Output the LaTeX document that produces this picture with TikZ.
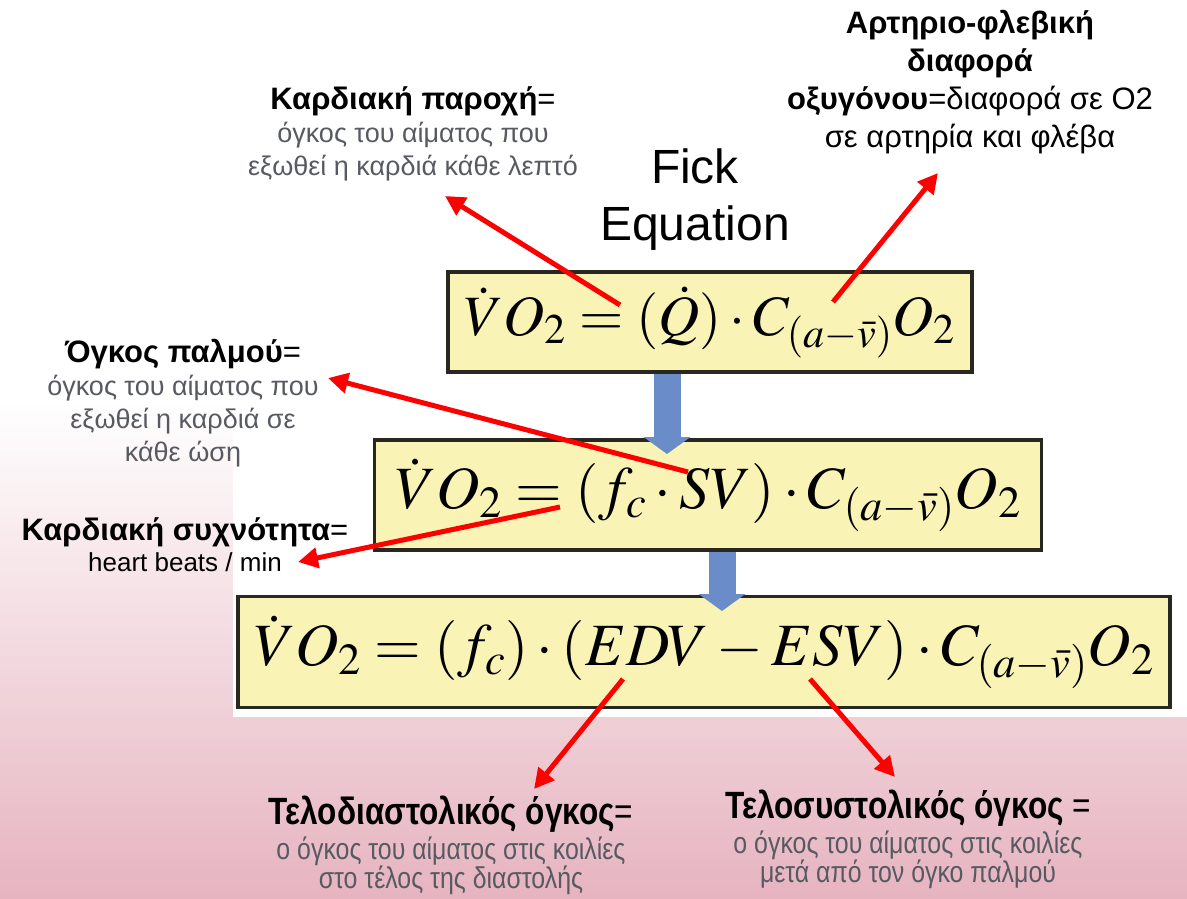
\documentclass[tikz,border=0pt]{standalone}
\usepackage{mathptmx}
\usepackage[no-math]{fontspec}
\setmainfont{Liberation Sans}
\newfontfamily\narrowfont[FakeStretch=0.83]{Liberation Sans}
\usetikzlibrary{arrows.meta,positioning}

\definecolor{bgpink}{RGB}{230,180,192}
\definecolor{eqfill}{RGB}{250,243,182}
\definecolor{eqborder}{RGB}{40,40,32}
\definecolor{notegrey}{RGB}{88,90,98}
\definecolor{stepblue}{RGB}{106,140,200}

\begin{document}
\begin{tikzpicture}[
  x=1pt,y=-1pt,
  eqbox/.style={draw=eqborder,line width=3.5pt,fill=eqfill,inner sep=0pt,font=\fontsize{57}{68}\selectfont},
  head/.style={font=\bfseries\fontsize{31}{36}\selectfont,align=center,inner sep=0pt},
  note/.style={text=notegrey,font=\fontsize{27}{33}\selectfont,align=center,inner sep=0pt},
  nhead/.style={font=\narrowfont\bfseries\fontsize{38}{42}\selectfont,align=center,inner sep=0pt},
  nnote/.style={text=notegrey,font=\narrowfont\fontsize{30}{29}\selectfont,align=center,inner sep=0pt},
  pointer/.style={red,line width=5pt,-{Triangle[length=20pt,width=20pt]}},
  stepdown/.style={stepblue,line width=27pt,-{Triangle[length=17pt,width=46pt]}}
]
  % background
  \useasboundingbox (0,0) rectangle (1187,898);
  \fill[white] (0,0) rectangle (1187,898);
  \shade[top color=white,bottom color=bgpink] (0,400) rectangle (1187,898);
  \fill[white] (233,262) rectangle (1187,717);

  % equations
  \node[eqbox,minimum width=524,minimum height=100] (eq1) at (710,322)
    {$\dot{V}O_2 = (\dot{Q})\cdot C_{(a-\bar{v})}O_2$};
  \node[eqbox,minimum width=667,minimum height=110,font=\fontsize{60}{72}\selectfont] (eq2) at (708,495)
    {$\dot{V}O_2 = (f_c\cdot SV)\cdot C_{(a-\bar{v})}O_2$};
  \node[eqbox,minimum width=932,minimum height=111,font=\fontsize{60}{72}\selectfont] (eq3) at (704,652)
    {$\dot{V}O_2 = (f_c)\cdot(EDV - ESV)\cdot C_{(a-\bar{v})}O_2$};

  \coordinate (s1) at (667,454);
  \coordinate (s2) at (722,611);
  \draw[stepdown] (s1 |- eq1.south) -- (s1);
  \draw[stepdown] (s2 |- eq2.south) -- (s2);

  \node[font=\fontsize{48}{57}\selectfont,align=center,inner sep=0pt] (title) at (695,200) {Fick\\Equation};

  % labels
  \node[head] (co) at (413,101) {Καρδιακή παροχή{\mdseries=}};
  \node[note,below=6pt of co] (codef) {όγκος του αίματος που\\εξωθεί η καρδιά κάθε λεπτό};

  \node[font=\fontsize{31}{38}\selectfont,align=center,inner sep=0pt] (avd) at (970,82)
    {\textbf{Αρτηριο-φλεβική}\\\textbf{διαφορά}\\\textbf{οξυγόνου}=διαφορά σε O2\\σε αρτηρία και φλέβα};

  \node[head] (sv) at (183,354) {Όγκος παλμού{\mdseries=}};
  \node[note,below=6pt of sv] (svdef) {όγκος του αίματος που\\εξωθεί η καρδιά σε\\κάθε ώση};

  \node[head] (hr) at (185,532) {Καρδιακή συχνότητα{\mdseries=}};
  \node[font=\fontsize{26}{30}\selectfont,inner sep=0pt,below=6pt of hr] (hrdef) {heart beats / min};

  \node[nhead] (edv) at (451,814) {Τελοδιαστολικός όγκος{\mdseries=}};
  \node[nnote,below=4pt of edv] (edvdef) {ο όγκος του αίματος στις κοιλίες\\στο τέλος της διαστολής};

  \node[nhead] (esv) at (908,808) {Τελοσυστολικός όγκος {\mdseries=}};
  \node[nnote,below=4pt of esv] (esvdef) {ο όγκος του αίματος στις κοιλίες\\μετά από τον όγκο παλμού};

  % pointers
  \coordinate (qdot) at (620,305);   \coordinate (qtip) at (445,196);
  \coordinate (cav) at (833,302);    \coordinate (cavtip) at (938,173);
  \coordinate (svterm) at (688,472); \coordinate (svtip) at (328,378);
  \coordinate (fcterm) at (560,507); \coordinate (fctip) at (298,562);
  \coordinate (edvterm) at (623,679); \coordinate (edvtip) at (534,789);
  \coordinate (esvterm) at (810,679); \coordinate (esvtip) at (895,777);

  \draw[pointer] (qdot) -- (qtip);
  \draw[pointer] (cav) -- (cavtip);
  \draw[pointer] (svterm) -- (svtip);
  \draw[pointer] (fcterm) -- (fctip);
  \draw[pointer] (edvterm) -- (edvtip);
  \draw[pointer] (esvterm) -- (esvtip);
\end{tikzpicture}
\end{document}
